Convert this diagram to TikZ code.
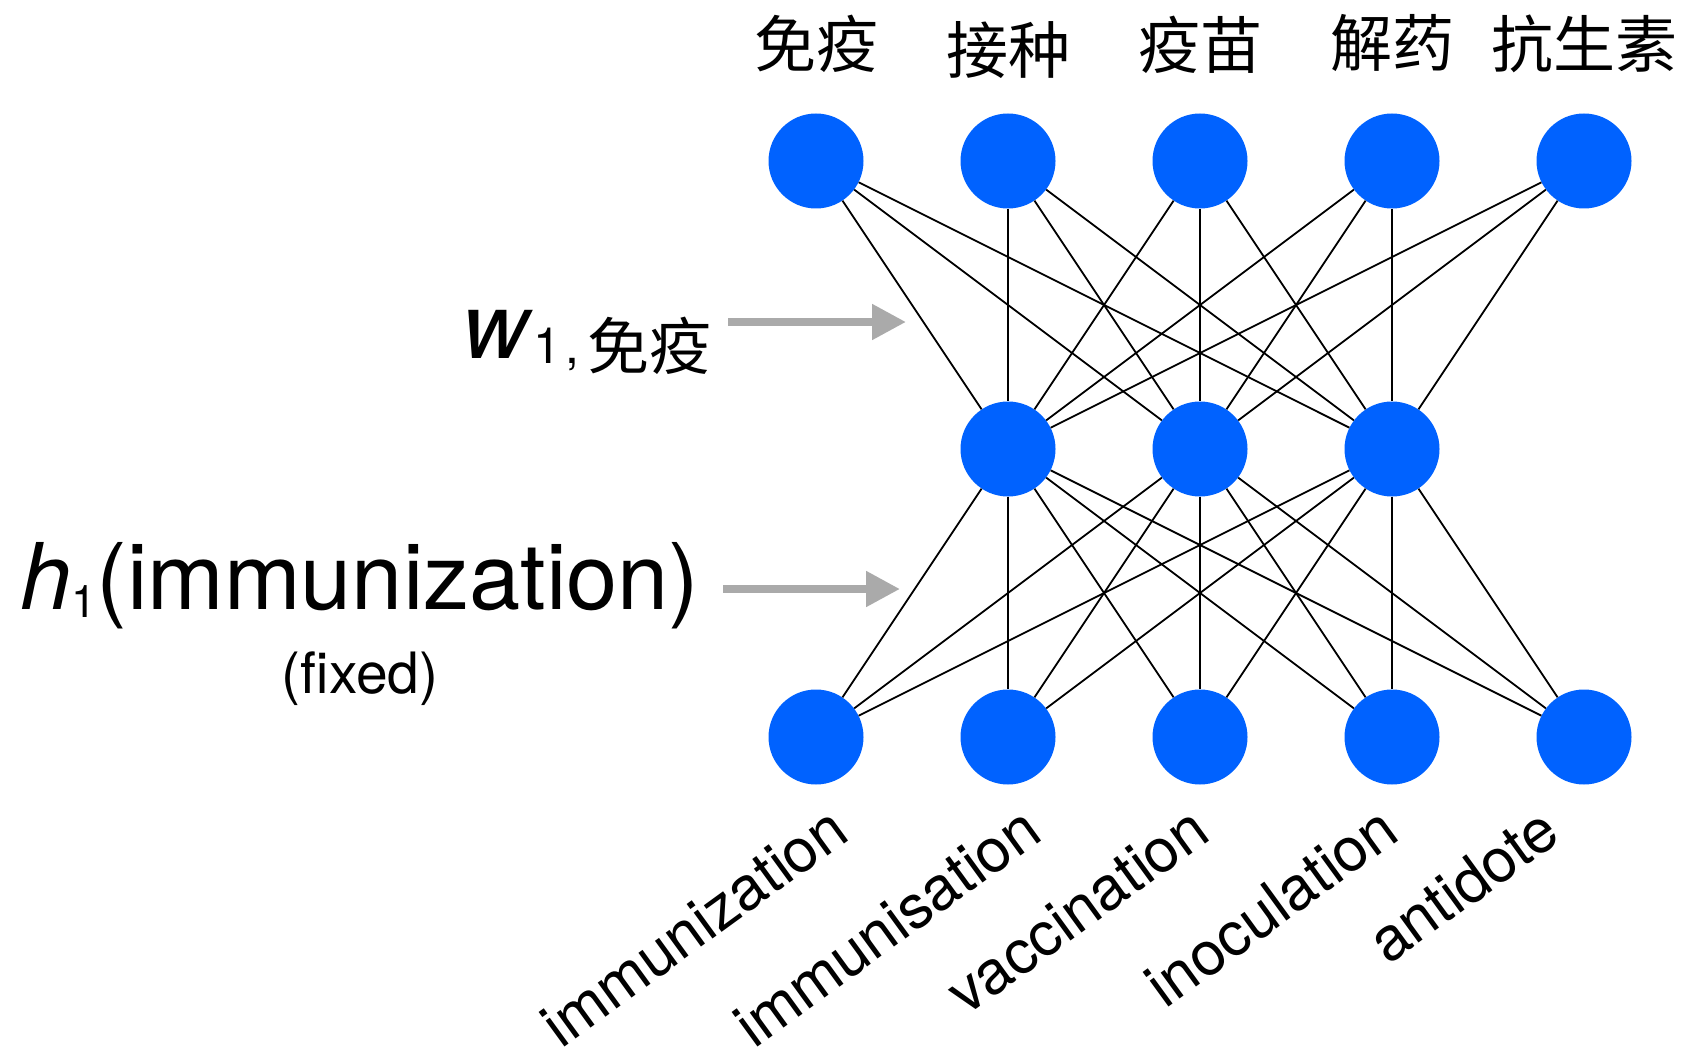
\documentclass[tikz,border=0pt]{standalone}
\usepackage{fontspec}
\setmainfont{TeX Gyre Heros}
\newfontfamily\cjk{Noto Sans CJK SC}
\usetikzlibrary{arrows.meta}
\definecolor{unitblue}{RGB}{0,98,255}
\definecolor{pointergray}{RGB}{170,170,170}
\begin{document}
\begin{tikzpicture}[x=1pt,y=-1pt,
  unit/.style={circle, fill=unitblue, minimum size=95pt, inner sep=0pt},
  link/.style={line width=1.8pt, black},
  pointer/.style={line width=8pt, pointergray, -{Triangle[length=34pt,width=34pt]}},
  toplabel/.style={font=\cjk\fontsize{62}{62}\selectfont, inner sep=0pt},
  wordlabel/.style={font=\fontsize{61}{61}\selectfont, inner sep=0pt, rotate=36, anchor=base east}]

% canvas
\fill[white] (0,0) rectangle (1683,1051);
\useasboundingbox (0,0) rectangle (1683,1051);

% units: output layer (top), hidden layer (middle), input layer (bottom)
\foreach \i/\x in {1/816,2/1008,3/1200,4/1392,5/1584} {
  \node[unit] (t\i) at (\x,161) {};
  \node[unit] (b\i) at (\x,737) {};
}
\foreach \i/\x in {1/1008,2/1200,3/1392}
  \node[unit] (m\i) at (\x,449) {};

% full connections between neighbouring layers
\foreach \t in {1,...,5}
  \foreach \m in {1,2,3} {
    \draw[link] (t\t) -- (m\m);
    \draw[link] (m\m) -- (b\t);
  }

% output words
\node[toplabel] (l1) at (816,43.5) {免疫};
\node[toplabel] (l2) at (1008,50) {接种};
\node[toplabel] (l3) at (1200,45) {疫苗};
\node[toplabel] (l4) at (1392,43.5) {解药};
\node[toplabel] (l5) at (1584,43.5) {抗生素};

% input words
\node[wordlabel] (w1) at (852,838) {immunization};
\node[wordlabel] (w2) at (1045,838) {immunisation};
\node[wordlabel] (w3) at (1213,838) {vaccination};
\node[wordlabel] (w4) at (1402,838) {inoculation};
\node[wordlabel] (w5) at (1563,839) {antidote};

% weight annotation
\node[inner sep=0pt, anchor=base west, font=\fontsize{92}{92}\selectfont] (wlab) at (462,358)
  {\textit{w}\raisebox{-5pt}{\fontsize{50}{50}\selectfont 1\kern5pt,\kern8pt\raisebox{-6pt}{\cjk\fontsize{62}{62}\selectfont 免疫}}};
\coordinate (p1s) at (728,322);
\coordinate (p1e) at (906,322);
\draw[pointer] (p1s) -- (p1e);

% hidden vector annotation
\node[inner sep=0pt, anchor=base west, font=\fontsize{92}{92}\selectfont] (hlab) at (20,609)
  {\textit{h}\raisebox{-8pt}{\fontsize{45}{45}\selectfont 1}(immunization)};
\node[inner sep=0pt, anchor=base, font=\fontsize{57}{57}\selectfont] (fixed) at (360,693) {(fixed)};
\coordinate (p2s) at (723,589);
\coordinate (p2e) at (900,589);
\draw[pointer] (p2s) -- (p2e);
\end{tikzpicture}
\end{document}
